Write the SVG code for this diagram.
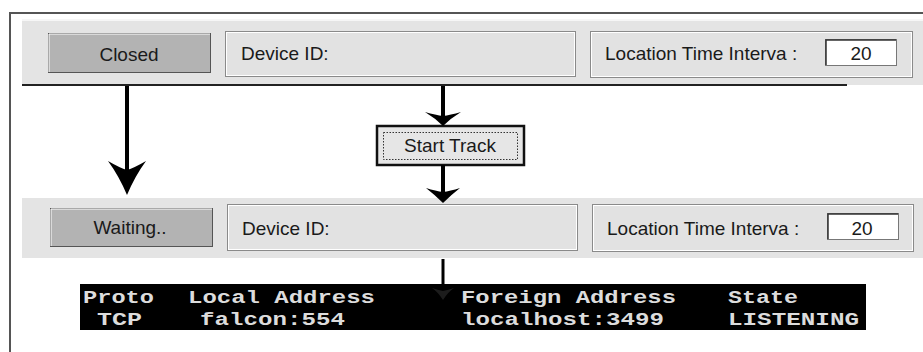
<svg xmlns="http://www.w3.org/2000/svg" width="923" height="352" viewBox="0 0 923 352">
<style>
.ui{font-family:"Liberation Sans",Arial,sans-serif;font-size:19px;fill:#1a1a1a}
.con{font-family:"Liberation Mono","Courier New",monospace;font-size:18px;font-weight:bold;fill:#dcdcdc;white-space:pre}
.band{fill:#e4e4e4}
.btn{fill:#b3b3b3;stroke:#555;stroke-width:1}
.panel{fill:#e2e2e2;stroke:#8a8a8a;stroke-width:1}
.panelhi{fill:none;stroke:#fff;stroke-width:1}
.input{fill:#fff;stroke:#777;stroke-width:1}
.shaft{stroke:#000;stroke-width:4;fill:none}
.head{fill:#000}
</style>
<rect width="923" height="352" fill="#fff"/>
<path d="M10,352 V13 H923" fill="none" stroke="#555" stroke-width="2"/>

<g id="closed-row">
  <rect class="band" x="22" y="19" width="901" height="66"/>
  <line x1="22" y1="20" x2="923" y2="20" stroke="#f6f6f6" stroke-width="2"/>
  <line x1="22" y1="85" x2="847" y2="85" stroke="#222" stroke-width="2"/>
  <rect class="btn" x="48.5" y="33.5" width="162" height="39"/>
  <path d="M49,72 V34 H210" fill="none" stroke="#fff" stroke-width="1"/>
  <text class="ui" x="129" y="61" text-anchor="middle">Closed</text>
  <rect class="panel" x="225.5" y="31.5" width="350" height="45"/>
  <rect class="panelhi" x="226.5" y="32.5" width="348" height="43"/>
  <text class="ui" x="241" y="60">Device ID:</text>
  <rect class="panel" x="590.5" y="31.5" width="322" height="46"/>
  <rect class="panelhi" x="591.5" y="32.5" width="320" height="44"/>
  <text class="ui" x="605" y="60">Location Time Interva :</text>
  <rect class="input" x="825.5" y="39.5" width="71" height="26"/>
  <path d="M826,65 V40 H896" fill="none" stroke="#333" stroke-width="1.5"/>
  <text class="ui" x="861" y="60" text-anchor="middle">20</text>
</g>

<g id="start-track">
  <rect x="377" y="126" width="147" height="39" fill="#e6e6e6" stroke="#111" stroke-width="2.5"/>
  <rect x="383.5" y="132.5" width="134" height="27" fill="none" stroke="#333" stroke-width="1" stroke-dasharray="1.5,1.5"/>
  <text class="ui" x="450" y="152" text-anchor="middle">Start Track</text>
</g>

<g id="waiting-row">
  <rect class="band" x="22" y="198" width="901" height="60"/>
  <rect class="btn" x="50.5" y="208.5" width="162" height="38"/>
  <path d="M51,246 V209 H212" fill="none" stroke="#fff" stroke-width="1"/>
  <text class="ui" x="130" y="234" text-anchor="middle">Waiting..</text>
  <rect class="panel" x="227.5" y="204.5" width="350" height="46"/>
  <rect class="panelhi" x="228.5" y="205.5" width="348" height="44"/>
  <text class="ui" x="242" y="235">Device ID:</text>
  <rect class="panel" x="592.5" y="204.5" width="321" height="47"/>
  <rect class="panelhi" x="593.5" y="205.5" width="319" height="45"/>
  <text class="ui" x="607" y="235">Location Time Interva :</text>
  <rect class="input" x="827.5" y="213.5" width="71" height="26"/>
  <path d="M828,239 V214 H898" fill="none" stroke="#333" stroke-width="1.5"/>
  <text class="ui" x="862" y="235" text-anchor="middle">20</text>
</g>

<g id="netstat">
  <rect x="80" y="284" width="786" height="46" fill="#000"/>
  <path d="M443,300 Q438,292 432,288 Q438,290 443,291 Q448,290 454,288 Q448,292 443,300 Z" fill="#1c1c1c"/>
  <text class="con" x="83" y="303" textLength="71" lengthAdjust="spacingAndGlyphs">Proto</text>
  <text class="con" x="188" y="303" textLength="187" lengthAdjust="spacingAndGlyphs">Local Address</text>
  <text class="con" x="461" y="303" textLength="215" lengthAdjust="spacingAndGlyphs">Foreign Address</text>
  <text class="con" x="728" y="303" textLength="70" lengthAdjust="spacingAndGlyphs">State</text>
  <text class="con" x="97" y="325" textLength="45" lengthAdjust="spacingAndGlyphs">TCP</text>
  <text class="con" x="200" y="325" textLength="145" lengthAdjust="spacingAndGlyphs">falcon:554</text>
  <text class="con" x="461" y="325" textLength="203" lengthAdjust="spacingAndGlyphs">localhost:3499</text>
  <text class="con" x="728" y="325" textLength="131" lengthAdjust="spacingAndGlyphs">LISTENING</text>
</g>

<g id="connectors">
  <line class="shaft" x1="127" y1="86" x2="127" y2="172"/>
  <path class="head" d="M127,195 Q119,176 108,161 Q120,168 127,170 Q134,168 146,161 Q135,176 127,195 Z"/>
  <line class="shaft" x1="443" y1="86" x2="443" y2="118"/>
  <path class="head" d="M443,126 Q435,118 425,112 Q436,115 443,116 Q450,115 461,112 Q451,118 443,126 Z"/>
  <line class="shaft" x1="443" y1="165" x2="443" y2="193"/>
  <path class="head" d="M443,203 Q435,195 426,188 Q436,191 443,192 Q450,191 460,188 Q451,195 443,203 Z"/>
  <line x1="443" y1="259" x2="443" y2="285" stroke="#000" stroke-width="3"/>
</g>
</svg>
